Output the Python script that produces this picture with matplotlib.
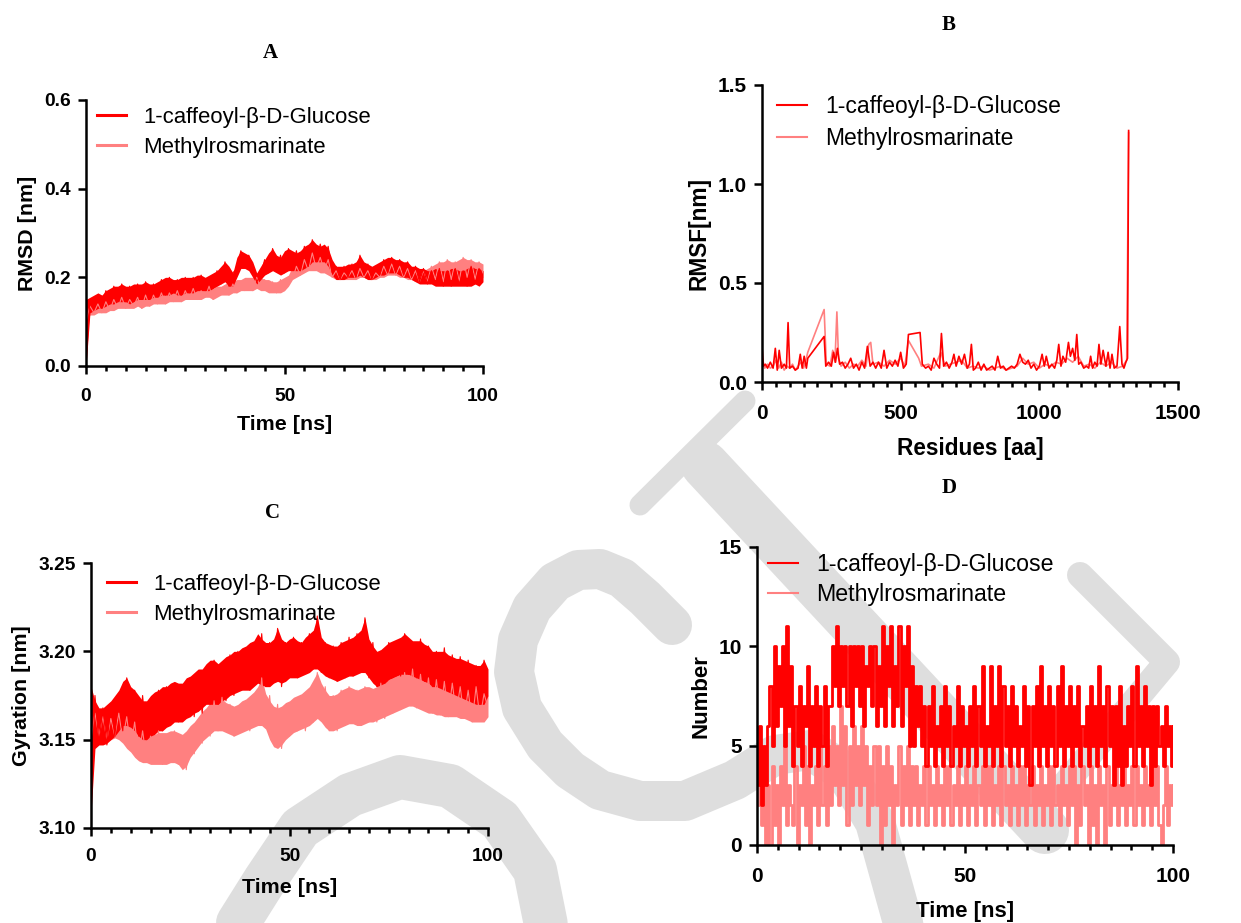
import numpy as np
import matplotlib.pyplot as plt
from matplotlib.lines import Line2D
from matplotlib.ticker import MultipleLocator, FormatStrFormatter

plt.rcParams['font.family'] = ['Liberation Sans', 'DejaVu Sans']

RED = '#ff0000'
PINK = '#ff8080'
names = ['1-caffeoyl-β-D-Glucose', 'Methylrosmarinate']

# ---- A: RMSD, 1 ns grid
rmsd_t = np.arange(0, 101)
# spiky trace (alternating low / high samples)
rmsd_glc = [0.00, 0.15, 0.13, 0.16, 0.135, 0.17, 0.14, 0.18, 0.15, 0.185,
            0.145, 0.18, 0.15, 0.185, 0.15, 0.19, 0.155, 0.185, 0.16, 0.195,
            0.16, 0.20, 0.165, 0.195, 0.16, 0.20, 0.165, 0.20, 0.17, 0.205,
            0.17, 0.20, 0.175, 0.215, 0.185, 0.235, 0.18, 0.21, 0.22, 0.26,
            0.225, 0.25, 0.22, 0.19, 0.205, 0.24, 0.21, 0.265, 0.215, 0.25,
            0.21, 0.265, 0.22, 0.26, 0.215, 0.27, 0.225, 0.285, 0.235, 0.275,
            0.24, 0.27, 0.21, 0.225, 0.195, 0.225, 0.20, 0.23, 0.20, 0.25,
            0.205, 0.23, 0.195, 0.225, 0.205, 0.24, 0.21, 0.245, 0.21, 0.24,
            0.205, 0.235, 0.20, 0.225, 0.19, 0.22, 0.185, 0.215, 0.185, 0.22,
            0.18, 0.215, 0.18, 0.22, 0.185, 0.215, 0.18, 0.225, 0.185, 0.22,
            0.20]
rmsd_mr = [0.10, 0.135, 0.12, 0.14, 0.12, 0.145, 0.125, 0.15, 0.13, 0.155,
           0.13, 0.15, 0.135, 0.155, 0.13, 0.16, 0.135, 0.16, 0.14, 0.165,
           0.14, 0.165, 0.145, 0.17, 0.145, 0.17, 0.15, 0.175, 0.15, 0.17,
           0.155, 0.18, 0.15, 0.175, 0.16, 0.18, 0.16, 0.185, 0.165, 0.19,
           0.17, 0.195, 0.17, 0.20, 0.175, 0.195, 0.17, 0.19, 0.165, 0.195,
           0.17, 0.20, 0.195, 0.225, 0.205, 0.24, 0.215, 0.255, 0.22, 0.245,
           0.215, 0.24, 0.20, 0.215, 0.195, 0.21, 0.20, 0.215, 0.195, 0.22,
           0.20, 0.215, 0.195, 0.21, 0.20, 0.225, 0.205, 0.23, 0.205, 0.225,
           0.20, 0.22, 0.195, 0.215, 0.19, 0.215, 0.19, 0.225, 0.195, 0.235,
           0.19, 0.24, 0.195, 0.235, 0.19, 0.245, 0.20, 0.24, 0.195, 0.235,
           0.21]
# band envelope of the dense trace
rmsd_glc_lo = [0.0, 0.12, 0.125, 0.13, 0.13, 0.135, 0.14, 0.14, 0.145, 0.145,
               0.145, 0.14, 0.145, 0.15, 0.15, 0.15, 0.15, 0.155, 0.155, 0.16,
               0.16, 0.16, 0.165, 0.16, 0.16, 0.165, 0.165, 0.165, 0.17, 0.17,
               0.17, 0.17, 0.175, 0.18, 0.185, 0.19, 0.18, 0.18, 0.2, 0.22,
               0.22, 0.215, 0.2, 0.185, 0.195, 0.205, 0.21, 0.215, 0.21, 0.205,
               0.21, 0.215, 0.215, 0.215, 0.215, 0.22, 0.225, 0.235, 0.235, 0.235,
               0.235, 0.225, 0.205, 0.195, 0.195, 0.195, 0.2, 0.2, 0.2, 0.205,
               0.2, 0.195, 0.195, 0.2, 0.205, 0.205, 0.21, 0.21, 0.21, 0.205,
               0.2, 0.2, 0.195, 0.19, 0.185, 0.185, 0.185, 0.185, 0.18, 0.18,
               0.18, 0.18, 0.18, 0.18, 0.18, 0.18, 0.18, 0.18, 0.185, 0.18,
               0.19]
rmsd_glc_hi = [0.15, 0.155, 0.16, 0.165, 0.16, 0.17, 0.175, 0.18, 0.18, 0.185,
               0.18, 0.18, 0.185, 0.185, 0.185, 0.19, 0.185, 0.185, 0.19, 0.195,
               0.2, 0.2, 0.195, 0.195, 0.2, 0.2, 0.2, 0.2, 0.205, 0.205,
               0.2, 0.205, 0.21, 0.215, 0.225, 0.235, 0.225, 0.21, 0.245, 0.26,
               0.255, 0.25, 0.235, 0.21, 0.225, 0.24, 0.255, 0.265, 0.25, 0.245,
               0.26, 0.265, 0.26, 0.255, 0.26, 0.27, 0.275, 0.285, 0.275, 0.27,
               0.275, 0.265, 0.24, 0.225, 0.225, 0.225, 0.23, 0.23, 0.235, 0.25,
               0.235, 0.23, 0.225, 0.23, 0.235, 0.24, 0.245, 0.245, 0.24, 0.24,
               0.235, 0.235, 0.225, 0.225, 0.22, 0.22, 0.215, 0.215, 0.22, 0.215,
               0.215, 0.215, 0.22, 0.22, 0.215, 0.215, 0.22, 0.225, 0.22, 0.22,
               0.215]
rmsd_mr_lo = [0.1, 0.115, 0.115, 0.12, 0.12, 0.12, 0.125, 0.125, 0.13, 0.13,
              0.13, 0.13, 0.13, 0.135, 0.13, 0.135, 0.135, 0.14, 0.14, 0.14,
              0.14, 0.145, 0.145, 0.145, 0.145, 0.15, 0.15, 0.15, 0.15, 0.15,
              0.155, 0.155, 0.15, 0.155, 0.16, 0.16, 0.16, 0.165, 0.165, 0.17,
              0.17, 0.17, 0.17, 0.175, 0.17, 0.17, 0.165, 0.165, 0.165, 0.165,
              0.17, 0.18, 0.195, 0.2, 0.205, 0.21, 0.215, 0.215, 0.215, 0.21,
              0.21, 0.205, 0.2, 0.195, 0.195, 0.195, 0.195, 0.195, 0.195, 0.2,
              0.2, 0.195, 0.195, 0.195, 0.2, 0.2, 0.205, 0.205, 0.205, 0.2,
              0.2, 0.195, 0.195, 0.19, 0.19, 0.19, 0.19, 0.19, 0.19, 0.19,
              0.19, 0.19, 0.19, 0.19, 0.19, 0.19, 0.195, 0.195, 0.19, 0.19,
              0.2]
rmsd_mr_hi = [0.135, 0.14, 0.14, 0.145, 0.145, 0.15, 0.15, 0.15, 0.155, 0.155,
              0.155, 0.155, 0.155, 0.16, 0.16, 0.16, 0.16, 0.165, 0.165, 0.165,
              0.165, 0.17, 0.17, 0.17, 0.17, 0.175, 0.175, 0.175, 0.175, 0.175,
              0.18, 0.18, 0.175, 0.18, 0.18, 0.185, 0.19, 0.19, 0.195, 0.195,
              0.2, 0.2, 0.2, 0.2, 0.2, 0.195, 0.195, 0.19, 0.19, 0.195,
              0.2, 0.205, 0.225, 0.23, 0.24, 0.245, 0.255, 0.255, 0.25, 0.245,
              0.24, 0.235, 0.22, 0.215, 0.215, 0.215, 0.215, 0.215, 0.22, 0.22,
              0.22, 0.215, 0.215, 0.215, 0.22, 0.225, 0.225, 0.23, 0.23, 0.225,
              0.22, 0.22, 0.215, 0.215, 0.215, 0.215, 0.22, 0.225, 0.23, 0.235,
              0.235, 0.24, 0.235, 0.235, 0.24, 0.245, 0.24, 0.24, 0.235, 0.235,
              0.23]

# ---- B: RMSF per residue
res_glc = [1, 5, 12, 20, 30, 40, 48, 55, 62, 70, 80, 88, 94, 100, 110, 120, 130,
           138, 145, 152, 160, 165, 224, 230, 240, 250, 258, 265, 272, 280, 290,
           300, 310, 320, 330, 340, 350, 360, 370, 380, 390, 400, 410, 420, 430,
           440, 450, 460, 470, 480, 490, 500, 510, 520, 528, 570, 578, 590, 600,
           610, 620, 630, 640, 647, 655, 665, 675, 685, 692, 700, 710, 720, 730,
           740, 748, 755, 762, 770, 780, 790, 800, 810, 820, 830, 840, 850, 860,
           870, 880, 890, 900, 910, 920, 930, 940, 950, 960, 970, 980, 990, 1000,
           1010, 1018, 1025, 1035, 1045, 1055, 1063, 1070, 1078, 1085, 1095,
           1105, 1112, 1120, 1128, 1135, 1142, 1150, 1160, 1170, 1178, 1185,
           1192, 1200, 1208, 1215, 1222, 1230, 1240, 1248, 1255, 1262, 1270,
           1280, 1290, 1298, 1305, 1312, 1318, 1322]
rmsf_glc = [0.16, 0.08, 0.09, 0.07, 0.10, 0.07, 0.17, 0.06, 0.16, 0.07, 0.09,
            0.07, 0.30, 0.07, 0.08, 0.06, 0.07, 0.14, 0.07, 0.13, 0.07, 0.12,
            0.23, 0.08, 0.10, 0.08, 0.15, 0.10, 0.17, 0.09, 0.10, 0.07, 0.09,
            0.12, 0.07, 0.09, 0.06, 0.10, 0.07, 0.18, 0.08, 0.10, 0.07, 0.10,
            0.07, 0.16, 0.07, 0.10, 0.08, 0.11, 0.08, 0.15, 0.07, 0.09, 0.24,
            0.25, 0.09, 0.07, 0.08, 0.06, 0.12, 0.09, 0.07, 0.245, 0.08, 0.10,
            0.07, 0.10, 0.14, 0.08, 0.13, 0.09, 0.14, 0.07, 0.09, 0.19, 0.06,
            0.07, 0.10, 0.06, 0.09, 0.06, 0.07, 0.08, 0.06, 0.13, 0.07, 0.08,
            0.06, 0.07, 0.08, 0.07, 0.09, 0.14, 0.10, 0.09, 0.11, 0.07, 0.09,
            0.06, 0.08, 0.14, 0.08, 0.13, 0.07, 0.09, 0.07, 0.11, 0.19, 0.08,
            0.13, 0.10, 0.20, 0.13, 0.17, 0.11, 0.24, 0.09, 0.10, 0.07, 0.08,
            0.07, 0.13, 0.07, 0.10, 0.08, 0.19, 0.09, 0.16, 0.08, 0.15, 0.07,
            0.14, 0.07, 0.08, 0.28, 0.09, 0.07, 0.10, 0.12, 1.27]
res_mr = [1, 10, 20, 30, 40, 50, 60, 70, 80, 90, 100, 110, 120, 130, 140, 150,
          160, 165, 224, 232, 245, 255, 263, 270, 276, 285, 300, 315, 330, 345,
          360, 375, 385, 392, 400, 420, 440, 460, 480, 500, 515, 528, 565, 575,
          600, 620, 645, 660, 680, 700, 720, 740, 760, 780, 800, 820, 840, 860,
          880, 900, 920, 940, 960, 980, 1000, 1020, 1040, 1060, 1080, 1100,
          1120, 1140, 1160, 1180, 1200, 1220, 1240, 1260, 1280, 1300, 1315, 1322]
rmsf_mr = [0.12, 0.07, 0.09, 0.07, 0.08, 0.11, 0.07, 0.10, 0.06, 0.08, 0.07,
           0.09, 0.06, 0.08, 0.10, 0.07, 0.12, 0.15, 0.366, 0.09, 0.08, 0.16,
           0.10, 0.354, 0.12, 0.08, 0.10, 0.07, 0.09, 0.08, 0.11, 0.08, 0.19,
           0.20, 0.09, 0.10, 0.08, 0.11, 0.09, 0.12, 0.08, 0.21, 0.12, 0.08,
           0.09, 0.07, 0.15, 0.08, 0.09, 0.10, 0.11, 0.07, 0.08, 0.07, 0.08,
           0.06, 0.07, 0.08, 0.06, 0.07, 0.08, 0.12, 0.09, 0.10, 0.07, 0.09,
           0.08, 0.10, 0.09, 0.12, 0.10, 0.13, 0.08, 0.09, 0.07, 0.10, 0.08,
           0.10, 0.07, 0.08, 0.11, 1.26]

# ---- C: radius of gyration, 1 ns grid
gyr_t = np.arange(0, 101)
gyr_glc = [3.108, 3.175, 3.148, 3.168, 3.147, 3.170, 3.152, 3.175, 3.155, 3.185,
           3.158, 3.178, 3.152, 3.175, 3.150, 3.172, 3.153, 3.178, 3.155, 3.180,
           3.158, 3.182, 3.160, 3.180, 3.162, 3.185, 3.163, 3.188, 3.165, 3.190,
           3.170, 3.195, 3.170, 3.190, 3.172, 3.198, 3.175, 3.200, 3.178, 3.202,
           3.178, 3.205, 3.182, 3.210, 3.180, 3.205, 3.182, 3.213, 3.180, 3.205,
           3.185, 3.208, 3.185, 3.205, 3.188, 3.210, 3.190, 3.220, 3.188, 3.205,
           3.185, 3.203, 3.183, 3.205, 3.185, 3.208, 3.186, 3.210, 3.188, 3.219,
           3.185, 3.205, 3.180, 3.200, 3.182, 3.205, 3.185, 3.206, 3.186, 3.210,
           3.187, 3.205, 3.185, 3.207, 3.183, 3.203, 3.180, 3.200, 3.180, 3.202,
           3.178, 3.198, 3.176, 3.197, 3.174, 3.195, 3.172, 3.192, 3.170, 3.195,
           3.180]
gyr_mr = [3.150, 3.165, 3.152, 3.163, 3.150, 3.162, 3.152, 3.165, 3.150, 3.163,
          3.145, 3.160, 3.140, 3.155, 3.138, 3.152, 3.137, 3.155, 3.136, 3.153,
          3.138, 3.155, 3.136, 3.152, 3.133, 3.155, 3.142, 3.160, 3.148, 3.165,
          3.152, 3.172, 3.155, 3.174, 3.155, 3.170, 3.152, 3.168, 3.155, 3.172,
          3.155, 3.175, 3.158, 3.185, 3.158, 3.175, 3.148, 3.170, 3.145, 3.168,
          3.152, 3.172, 3.155, 3.175, 3.155, 3.178, 3.160, 3.188, 3.162, 3.180,
          3.155, 3.175, 3.155, 3.178, 3.158, 3.180, 3.160, 3.178, 3.158, 3.180,
          3.160, 3.178, 3.160, 3.182, 3.162, 3.183, 3.165, 3.185, 3.167, 3.188,
          3.170, 3.190, 3.168, 3.187, 3.167, 3.185, 3.165, 3.184, 3.164, 3.183,
          3.163, 3.182, 3.165, 3.180, 3.162, 3.178, 3.160, 3.180, 3.162, 3.176,
          3.168]
gyr_glc_lo = [3.108, 3.145, 3.147, 3.147, 3.148, 3.150, 3.152, 3.155, 3.158, 3.158,
              3.157, 3.155, 3.152, 3.150, 3.150, 3.152, 3.153, 3.155, 3.155, 3.157,
              3.158, 3.160, 3.160, 3.160, 3.162, 3.163, 3.165, 3.166, 3.168, 3.170,
              3.170, 3.170, 3.170, 3.172, 3.173, 3.175, 3.176, 3.177, 3.178, 3.178,
              3.178, 3.180, 3.182, 3.181, 3.180, 3.180, 3.182, 3.183, 3.182, 3.183,
              3.185, 3.185, 3.185, 3.186, 3.187, 3.188, 3.190, 3.190, 3.188, 3.186,
              3.185, 3.184, 3.183, 3.184, 3.185, 3.186, 3.186, 3.187, 3.188, 3.188,
              3.185, 3.182, 3.180, 3.181, 3.182, 3.184, 3.185, 3.186, 3.187, 3.187,
              3.187, 3.186, 3.185, 3.184, 3.183, 3.182, 3.180, 3.180, 3.179, 3.178,
              3.177, 3.176, 3.175, 3.174, 3.173, 3.172, 3.171, 3.170, 3.170, 3.170,
              3.175]
gyr_glc_hi = [3.180, 3.172, 3.168, 3.168, 3.170, 3.172, 3.175, 3.178, 3.183, 3.185,
              3.180, 3.178, 3.175, 3.172, 3.172, 3.175, 3.177, 3.178, 3.180, 3.180,
              3.182, 3.183, 3.182, 3.182, 3.185, 3.186, 3.188, 3.190, 3.190, 3.193,
              3.195, 3.195, 3.193, 3.195, 3.197, 3.198, 3.200, 3.200, 3.202, 3.203,
              3.205, 3.206, 3.210, 3.207, 3.205, 3.205, 3.207, 3.213, 3.207, 3.205,
              3.207, 3.208, 3.206, 3.205, 3.208, 3.210, 3.212, 3.220, 3.208, 3.205,
              3.204, 3.203, 3.203, 3.205, 3.206, 3.207, 3.208, 3.210, 3.212, 3.219,
              3.207, 3.203, 3.200, 3.201, 3.203, 3.205, 3.206, 3.207, 3.208, 3.210,
              3.208, 3.206, 3.206, 3.206, 3.204, 3.203, 3.200, 3.200, 3.200, 3.200,
              3.198, 3.197, 3.196, 3.196, 3.195, 3.194, 3.193, 3.192, 3.192, 3.195,
              3.190]
gyr_mr_lo = [3.148, 3.150, 3.150, 3.150, 3.149, 3.150, 3.151, 3.150, 3.148, 3.145,
             3.143, 3.140, 3.138, 3.137, 3.137, 3.136, 3.136, 3.136, 3.136, 3.136,
             3.137, 3.137, 3.136, 3.133, 3.135, 3.140, 3.143, 3.146, 3.149, 3.151,
             3.153, 3.155, 3.155, 3.155, 3.154, 3.153, 3.152, 3.153, 3.154, 3.155,
             3.156, 3.157, 3.158, 3.158, 3.156, 3.150, 3.146, 3.145, 3.147, 3.150,
             3.152, 3.154, 3.155, 3.156, 3.157, 3.158, 3.160, 3.162, 3.160, 3.157,
             3.155, 3.155, 3.156, 3.157, 3.158, 3.159, 3.159, 3.158, 3.158, 3.159,
             3.160, 3.160, 3.161, 3.162, 3.163, 3.164, 3.165, 3.166, 3.167, 3.168,
             3.169, 3.169, 3.168, 3.167, 3.166, 3.165, 3.165, 3.164, 3.164, 3.163,
             3.163, 3.163, 3.163, 3.162, 3.162, 3.161, 3.160, 3.160, 3.160, 3.160,
             3.163]
gyr_mr_hi = [3.168, 3.165, 3.164, 3.163, 3.163, 3.163, 3.164, 3.165, 3.163, 3.162,
             3.160, 3.158, 3.156, 3.155, 3.154, 3.153, 3.153, 3.154, 3.154, 3.154,
             3.155, 3.155, 3.154, 3.153, 3.155, 3.158, 3.160, 3.163, 3.166, 3.168,
             3.171, 3.173, 3.174, 3.173, 3.171, 3.170, 3.169, 3.170, 3.172, 3.173,
             3.175, 3.177, 3.180, 3.185, 3.176, 3.172, 3.169, 3.168, 3.169, 3.171,
             3.172, 3.174, 3.175, 3.176, 3.178, 3.180, 3.184, 3.188, 3.182, 3.178,
             3.175, 3.175, 3.176, 3.178, 3.179, 3.180, 3.179, 3.178, 3.179, 3.180,
             3.180, 3.179, 3.180, 3.182, 3.183, 3.184, 3.185, 3.186, 3.187, 3.188,
             3.190, 3.190, 3.188, 3.187, 3.186, 3.185, 3.184, 3.184, 3.183, 3.183,
             3.182, 3.182, 3.181, 3.180, 3.180, 3.179, 3.179, 3.179, 3.178, 3.177,
             3.175]

# ---- D: hydrogen bonds, 0.5 ns grid
hb_t = np.arange(0, 201) * 0.5
hb_glc = [3, 6, 2, 5, 3, 6,
          8, 5, 10, 6, 9, 7, 10, 5, 11, 6, 9,
          4, 7, 5, 8, 4, 7, 6, 9, 4, 7, 5, 8, 4, 7, 5, 8, 4, 7,
          7, 10, 8, 11, 7, 10, 8, 10, 7, 10, 6, 10, 8, 10, 7, 10, 6, 9, 8, 10, 7, 10,
          6, 9, 7, 11, 6, 10, 8, 11, 6, 9, 7, 11, 6, 10, 8, 11, 5, 9,
          5, 8, 6, 8, 5, 7,
          4, 7, 5, 8, 4, 6, 5, 7, 4, 8,
          5, 7, 4, 6, 5, 8, 4, 7, 5, 6,
          4, 7, 5, 8, 4, 7, 5, 9, 4, 6,
          5, 9, 4, 7, 5, 9, 4, 8, 5, 7,
          4, 8, 5, 7, 4, 6, 5, 8, 4, 7,
          3, 7, 5, 8, 4, 9, 5, 7, 4, 8,
          5, 7, 4, 8, 5, 9, 4, 7, 5, 8,
          4, 7, 5, 8, 4, 6, 5, 7, 4, 8,
          5, 7, 4, 9, 5, 7, 4, 8, 5, 7,
          3, 7, 4, 8, 3, 6, 4, 7, 5, 8,
          4, 9, 5, 7, 4, 8, 5, 7, 3, 7,
          4, 7, 5, 6, 4, 7, 5, 6, 4, 6]
hb_mr = [2, 5, 1, 4, 0, 3,
         0, 4, 1, 3, 0, 4, 2, 5, 1, 3, 2,
         1, 4, 0, 3, 2, 5, 1, 4, 0, 3, 2, 4, 1, 5, 2, 4, 1, 5,
         2, 6, 3, 5, 2, 7, 3, 6, 1, 5, 2, 6, 3, 5, 2, 6, 3, 5, 1, 4, 2, 5,
         2, 5, 0, 4, 1, 5, 2, 4, 0, 3, 2, 5, 1, 4, 2, 5, 1, 4,
         2, 4, 1, 3, 2, 4,
         1, 4, 2, 3, 1, 4, 2, 3, 1, 4,
         2, 4, 1, 3, 2, 4, 1, 3, 2, 4,
         1, 3, 2, 4, 1, 3, 2, 4, 1, 4,
         2, 4, 1, 3, 2, 4, 1, 4, 2, 3,
         1, 4, 2, 3, 1, 4, 2, 4, 1, 3,
         2, 4, 1, 3, 2, 4, 1, 3, 2, 4,
         1, 4, 2, 3, 1, 4, 2, 3, 1, 4,
         2, 4, 0, 3, 1, 4, 2, 3, 0, 4,
         1, 3, 0, 4, 2, 3, 0, 4, 1, 3,
         2, 4, 1, 3, 2, 4, 1, 3, 2, 4,
         1, 4, 2, 3, 1, 4, 2, 3, 1, 4,
         2, 4, 1, 0, 2, 4, 1, 3, 2, 3]

W, H = 1241, 923
fig = plt.figure(figsize=(W / 100, H / 100), dpi=100)
fig.patch.set_facecolor('white')

# grey watermark strokes behind the panels (pixel coords, y down)
wm = [([(238, 923), (265, 880), (300, 828), (350, 795), (400, 777), (450, 786),
        (500, 820), (535, 870), (547, 930)], 44),
      ([(672, 625), (645, 598), (622, 578), (600, 569), (578, 570), (555, 582),
        (532, 608), (518, 640), (514, 672), (522, 708), (545, 745), (570, 770),
        (600, 790), (640, 801), (685, 801), (735, 780), (775, 755), (810, 750),
        (845, 772), (875, 822), (905, 930)], 40),
      ([(640, 505), (745, 401)], 21),
      ([(705, 465), (1045, 830)], 48),
      ([(1080, 575), (1167, 662), (1060, 790)], 26)]
for pts, w in wm:
    xs = [p[0] / W for p in pts]
    ys = [1 - p[1] / H for p in pts]
    fig.add_artist(Line2D(xs, ys, transform=fig.transFigure, color='#dedede',
                          lw=w * 0.72, solid_capstyle='round',
                          solid_joinstyle='round', zorder=-5))


def add_ax(l, t, r, b):
    ax = fig.add_axes([l / W, 1 - b / H, (r - l) / W, (b - t) / H])
    ax.set_facecolor('none')
    for s in ['top', 'right']:
        ax.spines[s].set_visible(False)
    for s in ['left', 'bottom']:
        ax.spines[s].set_linewidth(1.8)
    ax.tick_params(which='major', length=6, width=1.8, direction='out')
    ax.tick_params(which='minor', length=3.5, width=1.8, direction='out')
    ax.tick_params(axis='y', which='minor', left=False)
    return ax


def finish(ax, fs_tick, fs_lab, xlab, ylab, xpad, ylpad, xlpad, lw_leg, anchor, fs_leg, lsp):
    ax.tick_params(axis='x', labelsize=fs_tick, pad=xpad)
    ax.tick_params(axis='y', labelsize=fs_tick, pad=5)
    for lab in ax.get_xticklabels() + ax.get_yticklabels():
        lab.set_fontweight('bold')
    ax.set_xlabel(xlab, fontsize=fs_lab, fontweight='bold', labelpad=xlpad)
    ax.set_ylabel(ylab, fontsize=fs_lab, fontweight='bold', labelpad=ylpad)
    handles = [Line2D([], [], color=RED, lw=lw_leg), Line2D([], [], color=PINK, lw=lw_leg)]
    ax.legend(handles, names, loc='upper left', bbox_to_anchor=anchor, frameon=False,
              borderpad=0, borderaxespad=0, handlelength=1.3, handletextpad=0.8,
              labelspacing=lsp, fontsize=fs_leg)


def panel_title(x, y, s):
    fig.text(x / W, 1 - y / H, s, ha='center', va='center', fontsize=15,
             fontweight='bold', family='Liberation Serif')


def band(ax, t, lo, hi, trace, color):
    ax.fill_between(t, lo, hi, color=color, lw=0)
    ax.plot(t, trace, color=color, lw=0.8)


# A
ax = add_ax(86, 100, 483, 366)
band(ax, rmsd_t, rmsd_mr_lo, rmsd_mr_hi, rmsd_mr, PINK)
band(ax, rmsd_t, rmsd_glc_lo, rmsd_glc_hi, rmsd_glc, RED)
ax.set_xlim(0, 100)
ax.set_ylim(0, 0.6)
ax.set_xticks([0, 50, 100])
ax.xaxis.set_minor_locator(MultipleLocator(5))
ax.set_yticks([0, 0.2, 0.4, 0.6])
ax.yaxis.set_major_formatter(FormatStrFormatter('%.1f'))
finish(ax, 13.8, 15.4, 'Time [ns]', 'RMSD [nm]', 9.5, 5, 7.5, 2.2, (0.028, 0.975), 15.9, 0.43)
panel_title(270, 53, 'A')

# B
ax = add_ax(762, 85, 1178, 382)
ax.plot(res_mr, rmsf_mr, color=PINK, lw=1.2)
ax.plot(res_glc, rmsf_glc, color=RED, lw=1.2)
ax.set_xlim(0, 1500)
ax.set_ylim(0, 1.5)
ax.set_xticks([0, 500, 1000, 1500])
ax.xaxis.set_minor_locator(MultipleLocator(50))
ax.set_yticks([0, 0.5, 1.0, 1.5])
ax.yaxis.set_major_formatter(FormatStrFormatter('%.1f'))
finish(ax, 15, 16.3, 'Residues [aa]', 'RMSF[nm]', 10, 5, 10, 1.5, (0.036, 0.965), 16.5, 0.36)
panel_title(949, 25, 'B')

# C
ax = add_ax(91, 563, 488, 828)
band(ax, gyr_t, gyr_mr_lo, gyr_mr_hi, gyr_mr, PINK)
band(ax, gyr_t, gyr_glc_lo, gyr_glc_hi, gyr_glc, RED)
ax.set_xlim(0, 100)
ax.set_ylim(3.10, 3.25)
ax.set_xticks([0, 50, 100])
ax.xaxis.set_minor_locator(MultipleLocator(5))
ax.set_yticks([3.10, 3.15, 3.20, 3.25])
ax.yaxis.set_major_formatter(FormatStrFormatter('%.2f'))
finish(ax, 13.8, 15.4, 'Time [ns]', 'Gyration [nm]', 8.5, 5, 9, 2.2, (0.04, 0.96), 15.9, 0.43)
panel_title(272, 513, 'C')

# D
ax = add_ax(757, 547, 1173, 845)
ax.plot(hb_t, hb_mr, color=PINK, lw=2.0, drawstyle='steps-post')
ax.plot(hb_t, hb_glc, color=RED, lw=2.0, drawstyle='steps-post')
ax.set_xlim(0, 100)
ax.set_ylim(0, 15)
ax.set_xticks([0, 50, 100])
ax.xaxis.set_minor_locator(MultipleLocator(5))
ax.set_yticks([0, 5, 10, 15])
finish(ax, 15, 16, 'Time [ns]', 'Number', 10, 5, 10.5, 1.5, (0.026, 0.98), 16.7, 0.3)
panel_title(949, 488, 'D')

fig.savefig('out.png', dpi=100)
